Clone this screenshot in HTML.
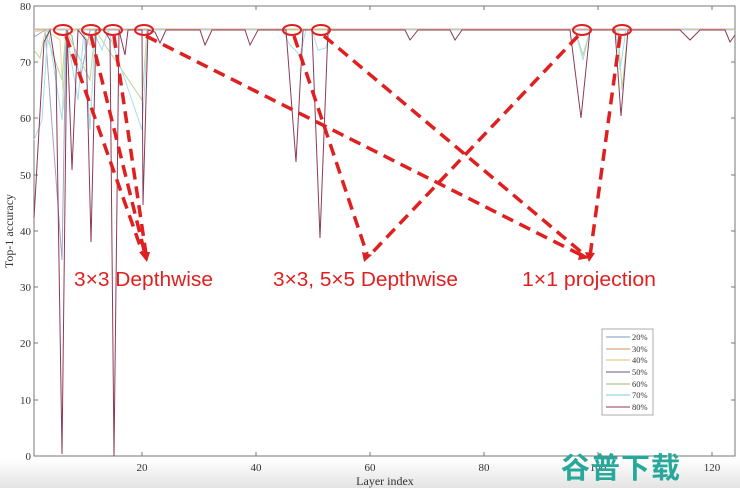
<!DOCTYPE html>
<html><head><meta charset="utf-8"><style>
html,body{margin:0;padding:0;background:#fff;}
svg{display:block;}
</style></head><body>
<svg width="740" height="488" viewBox="0 0 740 488" xmlns="http://www.w3.org/2000/svg" font-family="Liberation Serif, serif">
<defs><linearGradient id="g" x1="0" y1="0" x2="0" y2="1"><stop offset="0" stop-color="#fff"/><stop offset="1" stop-color="#e4e4e4"/></linearGradient></defs>
<rect x="0" y="458" width="740" height="30" fill="url(#g)"/>
<rect x="34" y="6" width="701" height="450" fill="none" stroke="#777" stroke-width="1"/>
<g stroke="#777" stroke-width="1">
<line x1="34" y1="6" x2="38" y2="6"/><line x1="34" y1="62" x2="38" y2="62"/><line x1="34" y1="118" x2="38" y2="118"/><line x1="34" y1="175" x2="38" y2="175"/><line x1="34" y1="231" x2="38" y2="231"/><line x1="34" y1="287" x2="38" y2="287"/><line x1="34" y1="343" x2="38" y2="343"/><line x1="34" y1="400" x2="38" y2="400"/>
<line x1="731" y1="62" x2="735" y2="62"/><line x1="731" y1="118" x2="735" y2="118"/><line x1="731" y1="175" x2="735" y2="175"/><line x1="731" y1="231" x2="735" y2="231"/><line x1="731" y1="287" x2="735" y2="287"/><line x1="731" y1="343" x2="735" y2="343"/><line x1="731" y1="400" x2="735" y2="400"/>
<line x1="142" y1="456" x2="142" y2="452"/><line x1="256" y1="456" x2="256" y2="452"/><line x1="370" y1="456" x2="370" y2="452"/><line x1="484" y1="456" x2="484" y2="452"/><line x1="598" y1="456" x2="598" y2="452"/><line x1="712" y1="456" x2="712" y2="452"/>
<line x1="142" y1="6" x2="142" y2="10"/><line x1="256" y1="6" x2="256" y2="10"/><line x1="370" y1="6" x2="370" y2="10"/><line x1="484" y1="6" x2="484" y2="10"/><line x1="598" y1="6" x2="598" y2="10"/><line x1="712" y1="6" x2="712" y2="10"/>
</g>
<g font-size="11" fill="#333" text-anchor="end">
<text x="31" y="10">80</text><text x="31" y="66">70</text><text x="31" y="122">60</text><text x="31" y="179">50</text><text x="31" y="235">40</text><text x="31" y="291">30</text><text x="31" y="347">20</text><text x="31" y="404">10</text><text x="31" y="460">0</text>
</g>
<g font-size="11" fill="#333" text-anchor="middle">
<text x="142" y="471">20</text><text x="256" y="471">40</text><text x="370" y="471">60</text><text x="484" y="471">80</text><text x="598" y="471">100</text><text x="712" y="471">120</text>
<text x="385" y="485" font-size="12">Layer index</text>
</g>
<text transform="translate(13,231) rotate(-90)" font-size="12" fill="#333" text-anchor="middle">Top-1 accuracy</text>
<g fill="none" stroke-width="1">
<polyline stroke="#b9cce0" points="34,30 700,30 735,30"/>
<polyline stroke="#e0b48c" points="34,29 735,29"/>
<polyline stroke="#eadb90" points="34,32 45,30 60,40 64,110 68,35 80,28 90,45 100,30 735,30"/>
<polyline stroke="#a8a0c0" points="34,37 45,30 62,260 66,30 72,36 80,80 90,30 735,30"/>
<polyline stroke="#b8d69a" points="34,50 40,58 45,32 62,80 66,30 90,80 95,30 142,100 147,30 575,30 583,55 590,30 618,30 622,90 628,30 735,30"/>
<polyline stroke="#a8dce8" points="34,140 42,120 48,30 62,120 66,30 78,100 84,30 90,130 95,35 102,50 108,30 142,130 148,30 282,30 290,45 300,55 306,30 312,30 318,50 326,48 330,30 575,30 583,60 590,30 616,30 620,70 626,30 735,30"/>
<polyline stroke="#8a3a5a" points="34,218 44,42 50,30 56,70 62,454 67,30 72,170 78,30 86,40 91,242 96,30 104,30 110,40 114,456 119,30 125,55 128,30 142,30 143,205 148,30 155,32 160,43 166,30 200,30 205,45 212,30 245,30 250,45 258,30 286,30 296,162 303,30 312,30 320,238 328,30 405,30 410,40 418,30 450,30 455,40 462,30 570,30 581,118 590,30 615,30 621,116 628,30 680,30 690,40 700,30 725,30 730,42 735,35"/>
</g>
<rect x="602" y="329" width="51" height="86" fill="#fff" stroke="#999" stroke-width="0.8"/>
<g stroke-width="1">
<line x1="606" y1="337" x2="630" y2="337" stroke="#7a9ab8"/>
<line x1="606" y1="349" x2="630" y2="349" stroke="#c89060"/>
<line x1="606" y1="360" x2="630" y2="360" stroke="#d8c070"/>
<line x1="606" y1="372" x2="630" y2="372" stroke="#6a5a8a"/>
<line x1="606" y1="384" x2="630" y2="384" stroke="#90b870"/>
<line x1="606" y1="395" x2="630" y2="395" stroke="#80c8d8"/>
<line x1="606" y1="407" x2="630" y2="407" stroke="#8a3a5a"/>
</g>
<g font-size="8.5" fill="#333">
<text x="632" y="340">20%</text><text x="632" y="352">30%</text><text x="632" y="363">40%</text><text x="632" y="375">50%</text><text x="632" y="387">60%</text><text x="632" y="398">70%</text><text x="632" y="410">80%</text>
</g>
<g fill="none" stroke="#e02020" stroke-width="2">
<ellipse cx="63" cy="30" rx="9" ry="5"/><ellipse cx="91" cy="30" rx="9" ry="5"/><ellipse cx="113" cy="30" rx="9" ry="5"/><ellipse cx="144" cy="30" rx="9" ry="5"/>
<ellipse cx="292" cy="30" rx="9" ry="5"/><ellipse cx="321" cy="30" rx="9" ry="5"/><ellipse cx="582" cy="30" rx="9" ry="5"/><ellipse cx="622" cy="30" rx="9" ry="5"/>
</g>
<g stroke="#e02020" stroke-width="3.5" stroke-dasharray="12,7" fill="none">
<line x1="66" y1="36" x2="143" y2="254"/>
<line x1="91" y1="36" x2="145" y2="254"/>
<line x1="114" y1="36" x2="146" y2="254"/>
<line x1="146" y1="36" x2="583" y2="256"/>
<line x1="294" y1="36" x2="367" y2="254"/>
<line x1="324" y1="36" x2="586" y2="256"/>
<line x1="578" y1="36" x2="369" y2="256"/>
<line x1="620" y1="36" x2="590" y2="256"/>
</g>
<g fill="#e02020">
<polygon points="139,252 150,252 147,262"/>
<polygon points="362,252 372,255 364,262"/>
<polygon points="580,252 590,258 578,260"/>
<polygon points="585,252 595,253 589,262"/>
</g>
<g font-family="Liberation Sans, sans-serif" font-size="20.5" fill="#e02020">
<text x="74" y="286" textLength="139" lengthAdjust="spacingAndGlyphs">3×3 Depthwise</text>
<text x="273" y="286" textLength="185" lengthAdjust="spacingAndGlyphs">3×3, 5×5 Depthwise</text>
<text x="522" y="286" textLength="134" lengthAdjust="spacingAndGlyphs">1×1 projection</text>
</g>
<text x="561" y="478" font-family="Liberation Sans, 'Noto Sans CJK SC', sans-serif" font-size="29" font-weight="bold" fill="#27a89a" letter-spacing="1">谷普下载</text>
</svg>
</body></html>
